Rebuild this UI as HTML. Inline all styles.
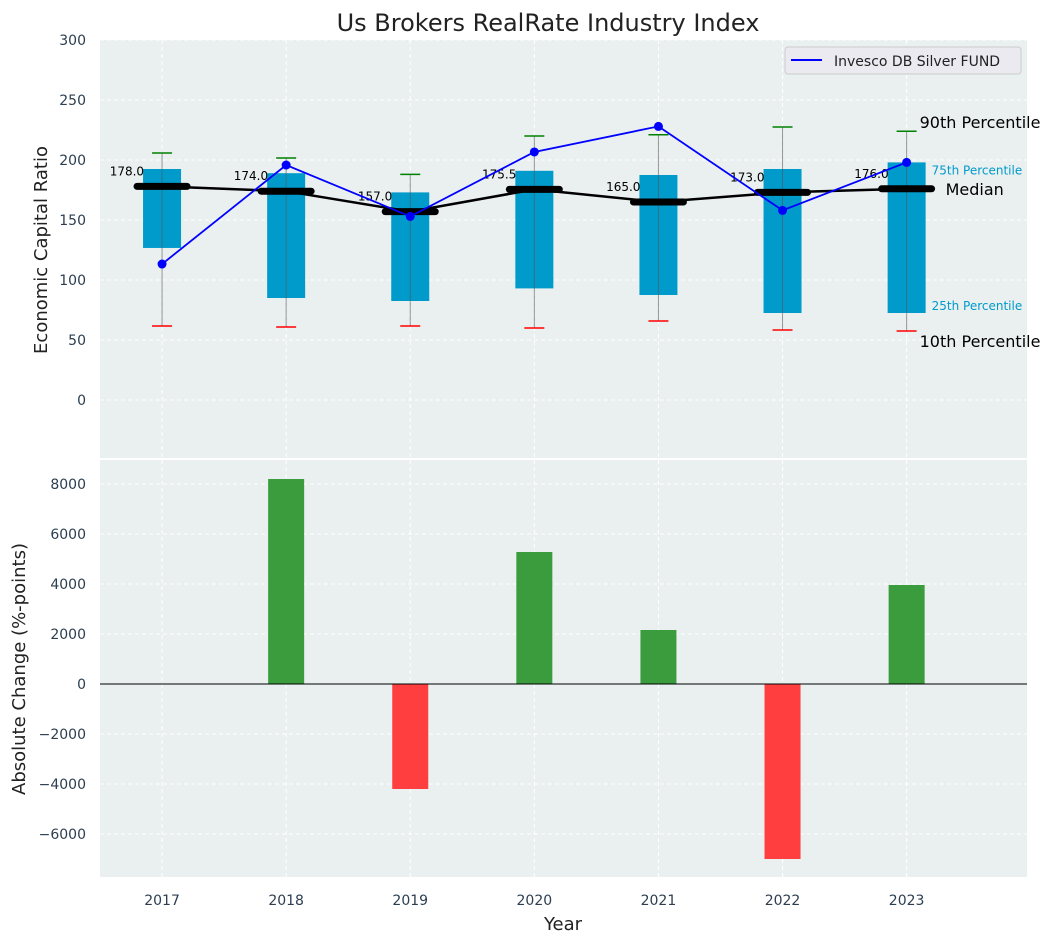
<!DOCTYPE html>
<html><head><meta charset="utf-8"><style>
body{margin:0;background:#fff;}
svg{display:block;font-family:"DejaVu Sans","Liberation Sans",sans-serif;}
</style></head><body>
<svg id="c" width="1054" height="942"></svg>
<script>
const years=["2017","2018","2019","2020","2021","2022","2023"];
const q25=[126.7,85,82.5,93,87.5,72.5,72.5];
const q75=[192.5,189,173,191,187.5,192.5,198];
const p10=[61.7,60.8,61.7,60,65.8,58.3,57.5];
const p90=[205.8,201.7,188,220,221,227.5,224];
const medians=[178,174,157,175.5,165,173,176];
const fund=[113.3,195.8,153,206.7,228,158,198];
const changes=[0,8200,-4200,5280,2160,-7000,3960];
const topTicks=[0,50,100,150,200,250,300];
const botTicks=[-6000,-4000,-2000,0,2000,4000,6000,8000];

const NS="http://www.w3.org/2000/svg";
const svg=document.getElementById('c');
function el(tag,a,parent,text){const e=document.createElementNS(NS,tag);for(const k in a)e.setAttribute(k,a[k]);if(text!==undefined)e.textContent=text;(parent||svg).appendChild(e);return e;}
const L=100,R=1027;
const xs=i=>L+(i+0.5)/7.47*(R-L);
const yT=v=>400-1.2*v;
const yB=v=>684-0.025*v;
const bg='#eaeff0';

let p=el('rect',{x:L,y:40,width:R-L,height:418,fill:bg});

p=el('rect',{x:L,y:460,width:R-L,height:417,fill:bg});


for(let i=0;i<7;i++){
  el('line',{x1:xs(i),x2:xs(i),y1:40,y2:458,stroke:'#fff','stroke-dasharray':'4,3','stroke-width':1});
  el('line',{x1:xs(i),x2:xs(i),y1:460,y2:877,stroke:'#fff','stroke-dasharray':'4,3','stroke-width':1});
}
topTicks.forEach(t=>{
  el('line',{x1:L,x2:R,y1:yT(t),y2:yT(t),stroke:'#fff','stroke-dasharray':'4,3'});
  const tx=el('text',{x:86,y:yT(t)+5,'text-anchor':'end','font-size':14,fill:'#2c3e50'},null,t);
  
});
botTicks.forEach(t=>{
  el('line',{x1:L,x2:R,y1:yB(t),y2:yB(t),stroke:'#fff','stroke-dasharray':'4,3'});
  const tx=el('text',{x:86,y:yB(t)+5,'text-anchor':'end','font-size':14,fill:'#2c3e50'},null,(t<0?'\u2212'+(-t):t));
  
});

for(let i=0;i<7;i++){
  const x=xs(i);
  const b=el('rect',{x:x-19,y:yT(q75[i]),width:38,height:yT(q25[i])-yT(q75[i]),fill:'#009bcb'});
  
  el('line',{x1:x,x2:x,y1:yT(p90[i]),y2:yT(p10[i]),stroke:'#555','stroke-opacity':0.6,'stroke-width':1});
  el('line',{x1:x-10,x2:x+10,y1:yT(p90[i]),y2:yT(p90[i]),stroke:'green','stroke-width':1.5});
  el('line',{x1:x-10,x2:x+10,y1:yT(p10[i]),y2:yT(p10[i]),stroke:'red','stroke-width':1.5});
}
el('polyline',{points:medians.map((m,i)=>xs(i)+','+yT(m)).join(' '),fill:'none',stroke:'#000','stroke-width':2.5});
for(let i=0;i<7;i++){
  const x=xs(i);
  const m=el('line',{x1:x-25,x2:x+25,y1:yT(medians[i]),y2:yT(medians[i]),stroke:'#000','stroke-width':7,'stroke-linecap':'round'});
  
  el('text',{x:x-18,y:yT(medians[i])-11,'text-anchor':'end','font-size':12,fill:'#000'},null,medians[i].toFixed(1));
}
el('polyline',{points:fund.map((v,i)=>xs(i)+','+yT(v)).join(' '),fill:'none',stroke:'blue','stroke-width':1.8});
fund.forEach((v,i)=>{const c=el('circle',{cx:xs(i),cy:yT(v),r:4.5,fill:'blue'});});

const xl=xs(6);
el('text',{x:xl+13,y:yT(p90[6])-3,'font-size':16,fill:'#000'},null,'90th Percentile');
el('text',{x:xl+25,y:yT(q75[6])+12,'font-size':12,fill:'#009bcb'},null,'75th Percentile');
el('text',{x:xl+39,y:yT(medians[6])+6,'font-size':16,fill:'#000'},null,'Median');
el('text',{x:xl+25,y:yT(q25[6])-3,'font-size':12,fill:'#009bcb'},null,'25th Percentile');
el('text',{x:xl+13,y:yT(p10[6])+16,'font-size':16,fill:'#000'},null,'10th Percentile');

const lg=el('g',{});

el('rect',{x:785,y:47,width:236,height:27,rx:3,fill:'#eaeaf0',stroke:'#ccc'},lg);
el('line',{x1:791,x2:822,y1:60,y2:60,stroke:'blue','stroke-width':2},lg);
el('text',{x:834,y:66,'font-size':14,fill:'#222'},lg,'Invesco DB Silver FUND');

for(let i=0;i<7;i++){
  const v=changes[i];if(v===0)continue;
  const y0=yB(Math.max(v,0)),h=Math.abs(yB(v)-yB(0));
  const b=el('rect',{x:xs(i)-18,y:y0,width:36,height:h,fill:v>0?'#3a9c3d':'#ff3f3f'});
  
}
el('line',{x1:L,x2:R,y1:yB(0),y2:yB(0),stroke:'#000','stroke-width':1});

years.forEach((y,i)=>{const t=el('text',{x:xs(i),y:905,'text-anchor':'middle','font-size':14,fill:'#2c3e50'},null,y);});

let t=el('text',{x:548,y:31,'text-anchor':'middle','font-size':24,fill:'#222'},null,'Us Brokers RealRate Industry Index');

t=el('text',{x:563,y:930,'text-anchor':'middle','font-size':18,fill:'#222'},null,'Year');

t=el('text',{x:0,y:0,'text-anchor':'middle','font-size':18,fill:'#222',transform:'translate(47,250) rotate(-90)'},null,'Economic Capital Ratio');

t=el('text',{x:0,y:0,'text-anchor':'middle','font-size':18,fill:'#222',transform:'translate(25,669) rotate(-90)'},null,'Absolute Change (%-points)');

</script>
</body></html>
